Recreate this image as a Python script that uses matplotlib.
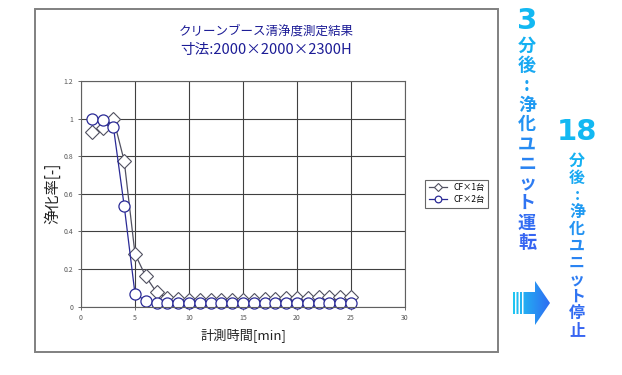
import matplotlib
matplotlib.use('Agg')
import matplotlib.pyplot as plt
import matplotlib.colors as mcolors
from matplotlib.patches import Rectangle, PathPatch
from matplotlib.path import Path
import numpy as np

plt.rcParams['font.family'] = ['Noto Sans CJK JP', 'DejaVu Sans']

minutes = list(range(1, 26))
cf_1 = [0.93, 0.95, 1.0, 0.775, 0.28, 0.16, 0.075, 0.045, 0.038, 0.033,
        0.033, 0.033, 0.033, 0.034, 0.036, 0.037, 0.04, 0.042, 0.044, 0.046,
        0.047, 0.049, 0.05, 0.051, 0.052]
cf_2 = [1.0, 0.995, 0.955, 0.535, 0.067, 0.03, 0.02, 0.018, 0.017, 0.016,
        0.016, 0.016, 0.016, 0.016, 0.016, 0.016, 0.016, 0.016, 0.016, 0.016,
        0.016, 0.016, 0.016, 0.016, 0.016]
series_names = ['CF×1台', 'CF×2台']

title_lines = ['クリーンブース清浄度測定結果', '寸法:2000×2000×2300H']
note_1 = ['3', '分', '後', ':', '浄', '化', 'ユ', 'ニ', 'ッ', 'ト', '運', '転']
note_2 = ['18', '分', '後', ':', '浄', '化', 'ユ', 'ニ', 'ッ', 'ト', '停', '止']

W, H = 622, 375
fig = plt.figure(figsize=(W / 100, H / 100), dpi=100)
fig.patch.set_facecolor('white')

# overlay in pixel coordinates for the frame and side notes
ov = fig.add_axes([0, 0, 1, 1], zorder=0)
ov.set_xlim(0, W)
ov.set_ylim(H, 0)
ov.axis('off')

ov.add_patch(Rectangle((35, 9), 463, 343, fill=False, edgecolor='#808080', lw=1.4))

navy = '#1c1c96'
ov.text(266, 31, title_lines[0], ha='center', va='center', fontsize=9, color=navy)
ov.text(266, 50, title_lines[1], ha='center', va='center', fontsize=10.5, color=navy)

# plot area
ax = fig.add_axes([81 / W, 1 - 306.5 / H, 324 / W, 225.5 / H], zorder=2)
ax.patch.set_alpha(0)
ax.plot(minutes, cf_1, color='#505060', lw=0.9, marker='D', ms=6.8,
        mfc='white', mec='#505060', mew=0.8, label=series_names[0], clip_on=False)
ax.plot(minutes, cf_2, color='#2a2a96', lw=0.9, marker='o', ms=8,
        mfc='white', mec='#2a2a96', mew=0.9, label=series_names[1], clip_on=False)
ax.set_xlim(0, 30)
ax.set_ylim(0, 1.2)
ax.set_xticks(range(0, 31, 5))
ax.set_yticks([0, 0.2, 0.4, 0.6, 0.8, 1.0, 1.2])
ax.set_yticklabels(['0', '0.2', '0.4', '0.6', '0.8', '1', '1.2'])
ax.grid(True, color='#404040', lw=0.8)
ax.set_axisbelow(True)
for s in ax.spines.values():
    s.set_color('#606060')
    s.set_linewidth(0.8)
ax.tick_params(labelsize=5, colors='#555555', length=2, width=0.6)
ax.set_xlabel('計測時間[min]', fontsize=9.5, labelpad=4, color='#222222')
ax.set_ylabel('浄化率[-]', fontsize=11, labelpad=2, color='#222222')

leg = ax.legend(loc='center left', bbox_to_anchor=(1.05, 0.5), fontsize=6,
                frameon=True, fancybox=False, edgecolor='#404040',
                handlelength=2.2, borderpad=0.4, labelspacing=0.35, markerscale=0.6)
leg.get_frame().set_linewidth(0.8)

# side notes, cyan to blue down each column
cmap = mcolors.LinearSegmentedColormap.from_list('note', ['#12b8f2', '#3a5ef2'])

def column(chars, x, y0, big_y, step, size):
    n = len(chars)
    ov.text(x, big_y, chars[0], ha='center', va='center', fontsize=21,
            fontweight='bold', color=cmap(0.0), family=['DejaVu Sans'])
    for i, ch in enumerate(chars[1:]):
        ov.text(x, y0 + i * step, ch, ha='center', va='center', fontsize=size,
                fontweight='bold', color=cmap((i + 1) / n))

column(note_1, 527, 46, 21, 19.7, 13)
column(note_2, 577, 161, 132, 16.9, 11.5)

# gradient arrow
grad = np.linspace(0, 1, 100).reshape(1, -1)
arrow_cmap = mcolors.LinearSegmentedColormap.from_list('arr', ['#20c8f2', '#2f6af2'])
im = ov.imshow(grad, cmap=arrow_cmap, extent=(513, 551, 326, 280), aspect='auto', zorder=3)
verts, codes = [], []
def add_poly(pts):
    verts.extend(pts + [pts[0]])
    codes.extend([Path.MOVETO] + [Path.LINETO] * (len(pts) - 1) + [Path.CLOSEPOLY])
for x0, x1 in [(513, 515), (516.5, 518.5), (520, 522)]:
    add_poly([(x0, 292), (x1, 292), (x1, 314), (x0, 314)])
add_poly([(523.5, 292), (535, 292), (535, 281), (550, 303), (535, 325), (535, 314), (523.5, 314)])
pp = PathPatch(Path(verts, codes), facecolor='none', edgecolor='none', transform=ov.transData)
ov.add_patch(pp)
im.set_clip_path(pp)
ov.set_xlim(0, W)
ov.set_ylim(H, 0)

plt.savefig('out.png', dpi=100)
